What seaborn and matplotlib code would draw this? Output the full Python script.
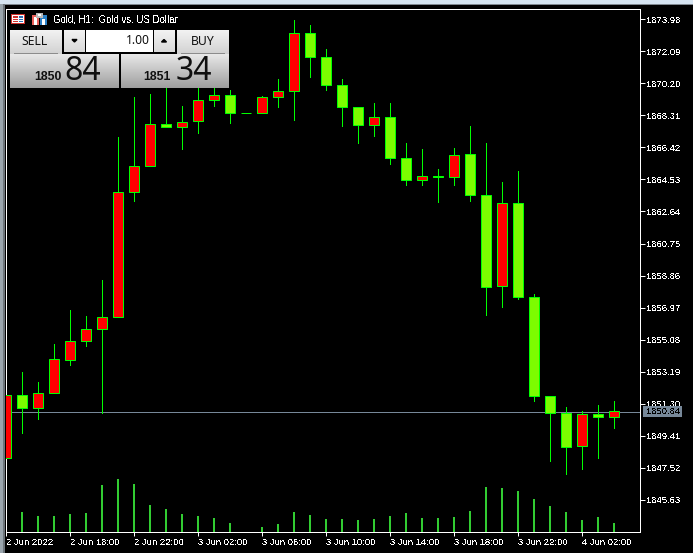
#!/usr/bin/env python3
"""
Gold H1 candlestick chart in a trading terminal window.
"""

import numpy as np
import pandas as pd
import seaborn as sns
import matplotlib.pyplot as plt
from matplotlib.patches import Rectangle

# candles, oldest first (prices)
opens = [1848.13, 1851.81, 1851.04, 1851.93, 1853.87, 1854.99, 1855.70, 1856.41, 1863.78, 1865.31,
         1867.79, 1867.61, 1867.97, 1869.20, 1869.50, 1868.44, 1868.44, 1869.38, 1869.73, 1873.15,
         1871.74, 1870.09, 1868.79, 1867.73, 1868.20, 1865.78, 1864.49, 1864.72, 1864.66, 1866.02,
         1863.60, 1858.24, 1863.13, 1857.59, 1851.75, 1850.75, 1848.80, 1850.69, 1850.51]
highs = [1851.81, 1853.20, 1852.61, 1854.85, 1856.85, 1856.50, 1858.62, 1867.05, 1869.41, 1869.59,
         1870.12, 1868.88, 1870.12, 1870.12, 1869.82, 1868.44, 1869.47, 1870.47, 1873.95, 1873.66,
         1872.24, 1870.47, 1868.79, 1869.06, 1869.06, 1866.70, 1866.34, 1865.17, 1866.40, 1867.70,
         1866.70, 1864.40, 1865.05, 1857.80, 1851.75, 1851.13, 1850.87, 1851.25, 1851.49]
lows = [1848.13, 1849.57, 1850.40, 1851.93, 1853.58, 1854.70, 1850.75, 1856.41, 1863.25, 1865.31,
        1867.61, 1866.32, 1867.26, 1868.85, 1867.85, 1868.44, 1868.44, 1868.82, 1868.03, 1870.56,
        1869.79, 1867.67, 1866.67, 1867.08, 1865.43, 1864.19, 1864.19, 1863.19, 1864.19, 1863.25,
        1856.53, 1857.00, 1857.47, 1851.46, 1847.92, 1847.15, 1847.45, 1848.10, 1849.87]
closes = [1851.81, 1851.04, 1851.93, 1853.93, 1854.99, 1855.70, 1856.41, 1863.78, 1865.31, 1867.79,
          1867.61, 1867.91, 1869.20, 1869.50, 1868.44, 1868.44, 1869.38, 1869.73, 1873.15, 1871.74,
          1870.09, 1868.79, 1867.73, 1868.20, 1865.78, 1864.49, 1864.72, 1864.66, 1865.96, 1863.60,
          1858.18, 1863.13, 1857.59, 1851.75, 1850.75, 1848.75, 1850.69, 1850.51, 1850.87]
volumes = [0, 20, 16, 16, 18, 19, 47, 53, 48, 27, 23, 18, 16, 14, 9, 0, 5, 8, 20, 17,
           13, 13, 12, 13, 16, 19, 14, 14, 15, 21, 45, 44, 41, 33, 26, 20, 12, 15, 9]

price_ticks = [1845.63, 1847.52, 1849.41, 1851.30, 1853.19, 1855.08, 1856.97, 1858.86,
               1860.75, 1862.64, 1864.53, 1866.42, 1868.31, 1870.20, 1872.09, 1873.98]
time_labels = ['2 Jun 2022', '2 Jun 18:00', '2 Jun 22:00', '3 Jun 02:00', '3 Jun 06:00',
               '3 Jun 10:00', '3 Jun 14:00', '3 Jun 18:00', '3 Jun 22:00', '4 Jun 02:00']
last_price = 1850.84

UP = '#ff0000'
DOWN = '#7cfc00'
OUTLINE = '#00ff00'
VOLUME = '#32cd32'
SLATE = '#778899'
W, H = 693, 553
FONT = 'Liberation Sans'
UI_FONT = 'Noto Sans'


def to_fig(px, py):
    return px / W, 1 - py / H


df = pd.DataFrame({'open': opens, 'high': highs, 'low': lows, 'close': closes, 'volume': volumes})
df['i'] = np.arange(len(df))
df['bottom'] = df[['open', 'close']].min(axis=1)
df['height'] = (df['close'] - df['open']).abs()
df['color'] = [UP if c > o else DOWN for o, c in zip(df['open'], df['close'])]

sns.set_theme(style='dark', rc={
    'figure.facecolor': 'black', 'axes.facecolor': 'black', 'axes.edgecolor': 'white',
    'axes.linewidth': 0.72, 'xtick.color': 'white', 'ytick.color': 'white',
    'text.color': 'white', 'text.antialiased': False,
    'xtick.bottom': True, 'ytick.right': True,
})
plt.rcParams['font.family'] = [FONT, 'DejaVu Sans']

fig = plt.figure(figsize=(W / 100, H / 100), dpi=100)
left, bottom = to_fig(6, 532)
ax = fig.add_axes([left, bottom, 634 / W, 523 / H])

# volume bars live on their own scale along the bottom
vol_ax = ax.twinx()
sns.barplot(data=df, x='i', y='volume', native_scale=True, width=0.125, color=VOLUME,
            saturation=1, linewidth=0, ax=vol_ax)
vol_ax.set_ylim(0, 523)
vol_ax.axis('off')

ax.vlines(df['i'], df['low'], df['high'], color=OUTLINE, linewidth=0.72, zorder=3, antialiased=False)
ax.bar(df['i'], df['height'], bottom=df['bottom'], width=0.625, color=df['color'],
       edgecolor=OUTLINE, linewidth=0.72, zorder=4)
ax.axhline(last_price, color=SLATE, linewidth=0.72, zorder=2)

ax.set_xlim(0.03125, 634 / 16 + 0.03125)
ax.set_ylim(1843.74, 1874.58)
ax.grid(False)
ax.yaxis.tick_right()
ax.set_yticks(price_ticks)
ax.set_yticklabels([f'{p:.2f}' for p in price_ticks])
ax.set_xticks(np.arange(0, 40, 4))
ax.set_xticklabels(time_labels, ha='left')
ax.tick_params(axis='y', length=3.6, width=0.72, pad=1.2, labelsize=6.8)
ax.tick_params(axis='x', length=3, width=0.72, pad=1.2, labelsize=6.8)
ax.set_xlabel('')
ax.set_ylabel('')

# window chrome and trade panel, in pixels of the picture
ui = fig.add_axes([0, 0, 1, 1], facecolor='none')
ui.set_xlim(0, W)
ui.set_ylim(H, 0)
ui.axis('off')


def box(x0, y0, x1, y1, color, z=2):
    ui.add_patch(Rectangle((x0, y0), x1 - x0, y1 - y0, facecolor=color, edgecolor='none', zorder=z))


def grad(x0, y0, x1, y1, top, low):
    shade = np.linspace(top, low, 64).reshape(-1, 1)
    ui.imshow(shade, extent=(x0, x1, y1, y0), cmap='gray', vmin=0, vmax=1, aspect='auto', zorder=2)


def label(x, y, s, size, weight='normal', ha='center', va='center', color='#101010', aa=True, family=UI_FONT):
    ui.text(x, y, s, fontsize=size, fontweight=weight, ha=ha, va=va, color=color, zorder=5,
            family=[family, 'DejaVu Sans'], antialiased=aa)


box(0, 0, W, 4, '#d6e4f1')
box(0, 3.5, W, 4.5, '#808890')
box(0, 4, 2.5, H, '#9aa5ad')
box(2.5, 4, 4.5, H, '#6d747a')

# toolbar icons
box(11, 14, 25, 24, '#d0312d')
box(12, 15, 24, 23, 'white')
box(13, 16, 18, 18, '#d0312d')
box(13, 19, 18, 20, '#d0312d')
box(13, 21, 18, 22, '#d0312d')
box(19, 16, 23, 18, '#2c6fb5')
box(19, 19, 23, 20, '#2c6fb5')
box(19, 21, 23, 22, '#2c6fb5')
box(32, 15, 39, 25, '#e9605a')
box(34, 17, 37, 25, 'white')
box(40, 15, 47, 25, '#2c82c9')
box(42, 19, 45, 25, 'white')
box(36, 13, 43, 18, '#b9b9b9')
box(38, 14, 41, 16, 'white')
ui.text(53, 19.5, 'Gold, H1:  Gold vs. US Dollar', fontsize=6.9, color='white', va='center', ha='left',
        family=FONT, zorder=5)

# buttons and lot field
grad(10, 30, 62, 54, 0.95, 0.82)
grad(177, 30, 229, 54, 0.95, 0.82)
box(14, 53, 58, 54, '#8c8c8c', 3)
box(181, 53, 225, 54, '#8c8c8c', 3)
box(62, 28, 177, 54, 'black')
grad(64, 30, 85, 52, 0.95, 0.85)
box(86, 30, 153, 52, 'white')
grad(154, 30, 175, 52, 0.95, 0.85)
ui.fill([72, 77, 74.5], [39.5, 39.5, 42], color='black', zorder=5)
ui.fill([161.5, 166.5, 164], [42, 42, 39.5], color='black', zorder=5)

# bid and ask panels
grad(10, 54, 119, 88, 0.91, 0.62)
grad(121, 54, 229, 88, 0.91, 0.62)

label(35, 41.5, 'SELL', 8.8)
label(203, 41.5, 'BUY', 8.8)
label(150, 40.5, '1.00', 8.6, ha='right')
label(61.5, 77.5, '1850', 8.8, weight='bold', ha='right', family=FONT)
label(171, 77.5, '1851', 8.8, weight='bold', ha='right', family=FONT)
label(64, 72, '84', 23, ha='left')
label(176, 72, '34', 23, ha='left')

# last price flag on the price axis
box(643, 406, 682, 417, SLATE, 6)
ui.text(646, 411.5, f'{last_price:.2f}', fontsize=6.8, color='black', va='center', ha='left',
        family=FONT, zorder=7)

ui.set_xlim(0, W)
ui.set_ylim(H, 0)

plt.savefig('out.png', dpi=100, facecolor='black')
